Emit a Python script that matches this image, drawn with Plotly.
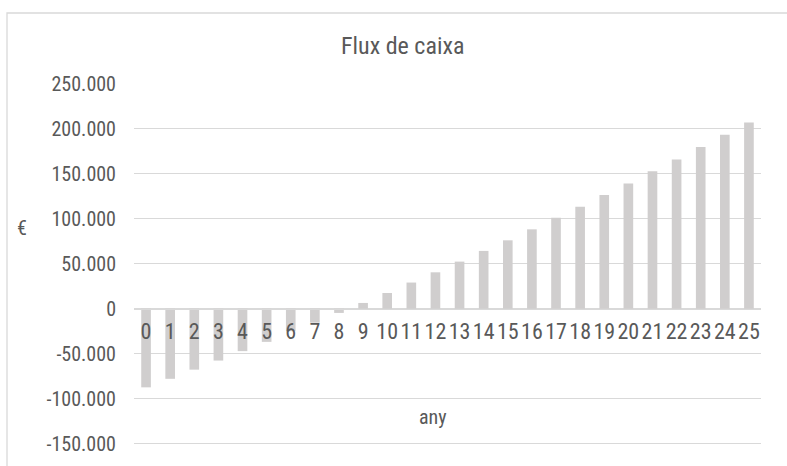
import plotly.graph_objects as go

years = [str(i) for i in range(26)]
cash_flow = [-87500, -78000, -67800, -57700, -47200, -36900, -25000, -15500, -4700,
             6400, 17500, 29100, 40500, 52400, 64300, 76100, 88300, 101300, 113500,
             126500, 139400, 152800, 166100, 179800, 193500, 207200]
y_ticks = [-150000, -100000, -50000, 0, 50000, 100000, 150000, 200000, 250000]
y_tick_text = ["-150.000", "-100.000", "-50.000", "0", "50.000", "100.000", "150.000", "200.000", "250.000"]

FONT = "Roboto Condensed, Liberation Sans Narrow, sans-serif"
TXT = "#595959"
GRID = "#d9d9d9"

W, H = 787, 466
ML, MR, MT, MB = 134, 26, 84, 0
ymin, ymax = -175000, 250000
zero_frac = (0 - ymin) / (ymax - ymin)
pw = W - ML - MR
ph = H - MT - MB

fig = go.Figure(go.Bar(x=years, y=cash_flow, marker=dict(color="#d0cece", line=dict(width=0)),
                       width=0.4))

fig.update_layout(
    width=W, height=H, autosize=False,
    margin=dict(l=ML, r=MR, t=MT, b=MB, pad=0),
    paper_bgcolor="white", plot_bgcolor="white",
    showlegend=False,
    font=dict(family=FONT, color=TXT),
    xaxis=dict(type="category", anchor="free", position=zero_frac,
               tickmode="array", tickvals=years, ticktext=years, tickangle=0,
               showline=True, linecolor=GRID, linewidth=1.3,
               showgrid=False, ticks="outside", ticklen=3, tickcolor="rgba(0,0,0,0)",
               tickfont=dict(size=22, family=FONT, color=TXT)),
    yaxis=dict(range=[ymin, ymax], tickvals=y_ticks, ticktext=y_tick_text,
               showgrid=True, gridcolor=GRID, gridwidth=1.3,
               zeroline=False, showline=False,
               ticks="outside", ticklen=13, tickcolor="rgba(0,0,0,0)",
               tickfont=dict(size=20, family=FONT, color=TXT)),
)

# chart border
fig.add_shape(type="rect", xref="paper", yref="paper",
              x0=(7 - ML) / pw, x1=(800 - ML) / pw,
              y0=-0.1, y1=(H - 13) / ph,
              line=dict(color=GRID, width=1.3), fillcolor="rgba(0,0,0,0)", layer="below")

fig.add_annotation(text="Flux de caixa", xref="paper", yref="paper",
                   x=(402 - ML) / pw, y=(H - 45.5) / ph, showarrow=False,
                   font=dict(size=24, family=FONT, color=TXT), xanchor="center", yanchor="middle")
fig.add_annotation(text="any", xref="paper", yref="paper",
                   x=(432.5 - ML) / pw, y=(H - 417) / ph, showarrow=False,
                   font=dict(size=20, family=FONT, color=TXT), xanchor="center", yanchor="middle")
fig.add_annotation(text="€", xref="paper", yref="paper",
                   x=(21.5 - ML) / pw, y=(H - 228) / ph, showarrow=False,
                   font=dict(size=20, family=FONT, color=TXT), xanchor="center", yanchor="middle")

fig.write_html("out.html", config={"displayModeBar": False},
               post_script="document.body.style.margin='0';document.body.style.overflow='hidden';")
